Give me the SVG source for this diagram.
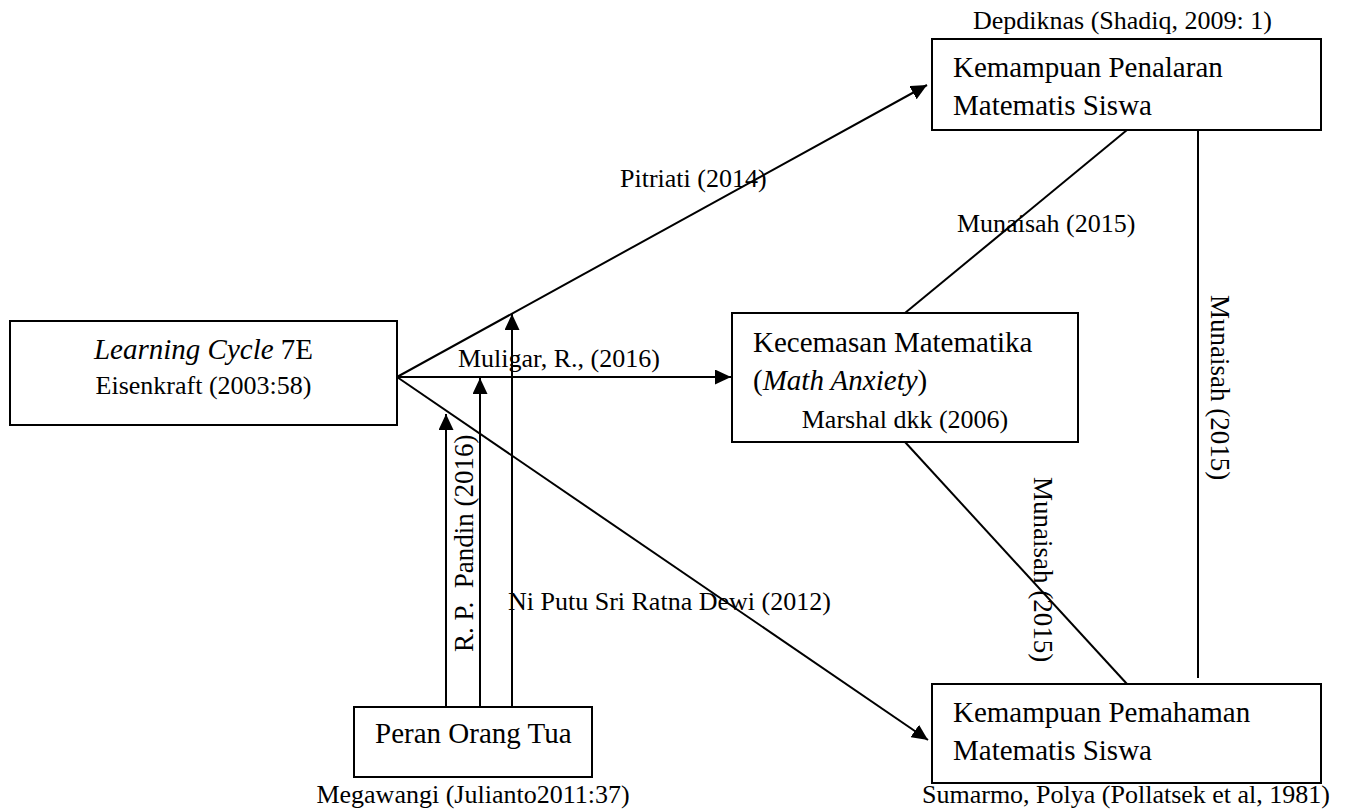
<svg xmlns="http://www.w3.org/2000/svg" width="1354" height="811" viewBox="0 0 1354 811">
<style>
text{font-family:"Liberation Serif","Times New Roman",serif;fill:#000}
.box{fill:#fff;stroke:#000;stroke-width:2}
.t{font-size:29px}
.l{font-size:26px}
.ln{stroke:#000;stroke-width:2;fill:none}
.ar{marker-end:url(#ah)}
</style>
<defs>
<marker id="ah" markerUnits="userSpaceOnUse" markerWidth="17" markerHeight="15" refX="16" refY="7.5" orient="auto">
<path d="M0,0 L16,7.5 L0,15 z" fill="#000"/>
</marker>
</defs>
<rect width="1354" height="811" fill="#fff"/>
<g id="connectors">
<line class="ln ar" x1="397" y1="377" x2="927" y2="85"/>
<line class="ln ar" x1="397" y1="377" x2="731" y2="377"/>
<line class="ln ar" x1="397" y1="377" x2="928" y2="740"/>
<line class="ln ar" x1="446" y1="707" x2="446" y2="414"/>
<line class="ln ar" x1="480" y1="707" x2="480" y2="378"/>
<line class="ln ar" x1="512" y1="707" x2="512" y2="314"/>
<line class="ln" x1="905" y1="313" x2="1127" y2="130"/>
<line class="ln" x1="905" y1="442" x2="1127" y2="684"/>
<line class="ln" x1="1198" y1="130" x2="1198" y2="678"/>
<text class="l" x="620" y="187">Pitriati (2014)</text>
<text class="l" x="957" y="232">Munaisah (2015)</text>
<text class="l" x="458" y="367">Muligar, R., (2016)</text>
<text class="l" x="508" y="610">Ni Putu Sri Ratna Dewi (2012)</text>
<text class="l" xml:space="preserve" transform="translate(473,652) rotate(-90)" style="font-size:27px">R. P.  Pandin (2016)</text>
<text class="l" transform="translate(1034,477) rotate(90)" style="font-size:27px">Munaisah (2015)</text>
<text class="l" transform="translate(1211,295) rotate(90)" style="font-size:27px">Munaisah (2015)</text>
</g>
<g id="node-learning-cycle">
<rect class="box" x="10" y="321" width="387" height="104"/>
<text class="t" x="203.5" y="359" text-anchor="middle"><tspan font-style="italic">Learning Cycle</tspan> 7E</text>
<text class="l" x="203.5" y="394" text-anchor="middle">Eisenkraft (2003:58)</text>
</g>
<g id="node-penalaran">
<text class="l" x="973" y="29">Depdiknas (Shadiq, 2009: 1)</text>
<rect class="box" x="932" y="39" width="389" height="91"/>
<text class="t" x="953" y="77">Kemampuan Penalaran</text>
<text class="t" x="953" y="115">Matematis Siswa</text>
</g>
<g id="node-kecemasan">
<rect class="box" x="732" y="313" width="346" height="129"/>
<text class="t" x="753" y="352">Kecemasan Matematika</text>
<text class="t" x="753" y="390">(<tspan font-style="italic">Math Anxiety</tspan>)</text>
<text class="l" x="905" y="428" text-anchor="middle">Marshal dkk (2006)</text>
</g>
<g id="node-pemahaman">
<rect class="box" x="932" y="684" width="389" height="99"/>
<text class="t" x="953" y="722">Kemampuan Pemahaman</text>
<text class="t" x="953" y="760">Matematis Siswa</text>
<text class="l" x="922" y="803">Sumarmo, Polya (Pollatsek et al, 1981)</text>
</g>
<g id="node-peran">
<rect class="box" x="354" y="707" width="238" height="70"/>
<text class="t" x="375" y="743">Peran Orang Tua</text>
<text class="l" x="473" y="803" text-anchor="middle">Megawangi (Julianto2011:37)</text>
</g>
</svg>
